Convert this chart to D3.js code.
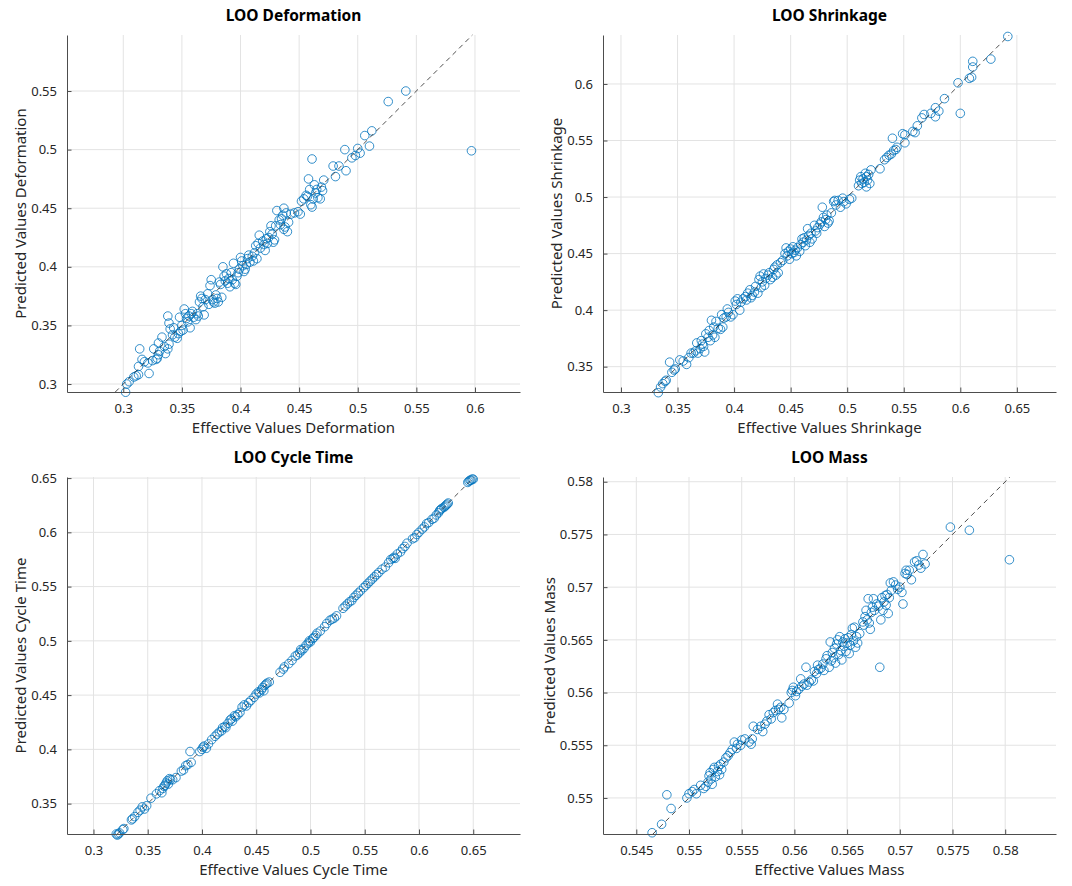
<!DOCTYPE html>
<html>
<head>
<meta charset="utf-8">
<script src="https://cdn.jsdelivr.net/npm/d3@7"></script>
<style>
  html, body { margin: 0; padding: 0; background: #fff; }
  svg { display: block; }
</style>
</head>
<body>
<svg id="chart" width="1072" height="886"></svg>
<script>
// [effective, predicted] pairs
const deformationPoints = [
  [0.302, 0.293], [0.303, 0.300], [0.305, 0.302], [0.309, 0.306], [0.311, 0.307], [0.313, 0.308],
  [0.314, 0.330], [0.313, 0.315], [0.316, 0.321], [0.318, 0.319], [0.322, 0.309], [0.321, 0.318],
  [0.325, 0.320], [0.326, 0.330], [0.328, 0.321], [0.329, 0.322], [0.330, 0.325], [0.331, 0.328],
  [0.330, 0.335], [0.333, 0.340], [0.335, 0.332], [0.336, 0.326], [0.338, 0.330], [0.339, 0.334],
  [0.338, 0.358], [0.339, 0.352], [0.340, 0.347], [0.343, 0.348], [0.342, 0.342], [0.344, 0.340],
  [0.346, 0.339], [0.347, 0.343], [0.348, 0.357], [0.349, 0.345], [0.350, 0.350], [0.351, 0.346],
  [0.352, 0.364], [0.353, 0.360], [0.354, 0.356], [0.355, 0.353], [0.356, 0.358], [0.357, 0.348],
  [0.358, 0.360], [0.359, 0.362], [0.360, 0.357], [0.362, 0.355], [0.363, 0.360], [0.364, 0.358],
  [0.365, 0.370], [0.366, 0.375], [0.367, 0.373], [0.368, 0.366], [0.369, 0.359], [0.370, 0.372],
  [0.372, 0.377], [0.373, 0.368], [0.374, 0.384], [0.375, 0.389], [0.376, 0.372], [0.377, 0.370],
  [0.378, 0.369], [0.379, 0.376], [0.380, 0.373], [0.381, 0.370], [0.382, 0.387], [0.383, 0.385],
  [0.384, 0.374], [0.385, 0.400], [0.386, 0.392], [0.387, 0.388], [0.388, 0.394], [0.389, 0.386],
  [0.390, 0.390], [0.391, 0.383], [0.392, 0.395], [0.393, 0.389], [0.394, 0.403], [0.395, 0.386],
  [0.396, 0.385], [0.397, 0.392], [0.398, 0.395], [0.399, 0.398], [0.400, 0.408], [0.401, 0.405],
  [0.402, 0.401], [0.403, 0.396], [0.404, 0.398], [0.405, 0.402], [0.406, 0.407], [0.407, 0.410],
  [0.408, 0.404], [0.410, 0.409], [0.411, 0.405], [0.412, 0.412], [0.413, 0.418], [0.414, 0.407],
  [0.415, 0.420], [0.416, 0.427], [0.417, 0.416], [0.419, 0.422], [0.420, 0.419], [0.421, 0.414],
  [0.422, 0.424], [0.423, 0.420], [0.424, 0.425], [0.425, 0.430], [0.426, 0.435], [0.427, 0.428],
  [0.428, 0.421], [0.429, 0.423], [0.430, 0.435], [0.431, 0.448], [0.433, 0.440], [0.434, 0.436],
  [0.435, 0.441], [0.436, 0.444], [0.437, 0.450], [0.437, 0.432], [0.438, 0.434], [0.439, 0.446],
  [0.440, 0.430], [0.441, 0.438], [0.443, 0.445], [0.446, 0.446], [0.449, 0.447], [0.451, 0.445],
  [0.452, 0.456], [0.454, 0.458], [0.456, 0.461], [0.457, 0.460], [0.458, 0.475], [0.459, 0.466],
  [0.460, 0.453], [0.461, 0.492], [0.461, 0.451], [0.462, 0.458], [0.463, 0.470], [0.464, 0.463],
  [0.465, 0.466], [0.466, 0.459], [0.468, 0.458], [0.469, 0.468], [0.470, 0.465], [0.471, 0.474],
  [0.479, 0.486], [0.481, 0.477], [0.484, 0.486], [0.489, 0.500], [0.490, 0.482], [0.495, 0.493],
  [0.498, 0.495], [0.500, 0.501], [0.502, 0.497], [0.506, 0.512], [0.510, 0.503], [0.512, 0.516],
  [0.526, 0.541], [0.541, 0.550], [0.597, 0.499]
]

const shrinkagePoints = [
  [0.333, 0.327], [0.335, 0.332], [0.337, 0.335], [0.339, 0.337], [0.340, 0.338], [0.343, 0.354],
  [0.345, 0.345], [0.347, 0.347], [0.348, 0.348], [0.352, 0.356], [0.355, 0.355], [0.358, 0.352],
  [0.360, 0.358], [0.362, 0.362], [0.364, 0.362], [0.366, 0.364], [0.367, 0.371], [0.368, 0.362],
  [0.370, 0.366], [0.371, 0.373], [0.372, 0.370], [0.373, 0.368], [0.374, 0.363], [0.375, 0.379],
  [0.377, 0.376], [0.378, 0.382], [0.379, 0.373], [0.380, 0.391], [0.381, 0.378], [0.382, 0.385],
  [0.383, 0.376], [0.384, 0.390], [0.386, 0.384], [0.388, 0.383], [0.389, 0.396], [0.390, 0.385],
  [0.391, 0.393], [0.393, 0.394], [0.394, 0.401], [0.395, 0.398], [0.397, 0.394], [0.399, 0.396],
  [0.401, 0.408], [0.402, 0.405], [0.403, 0.410], [0.405, 0.400], [0.406, 0.407], [0.408, 0.410],
  [0.410, 0.412], [0.411, 0.409], [0.412, 0.415], [0.414, 0.418], [0.415, 0.411], [0.416, 0.413],
  [0.418, 0.416], [0.419, 0.421], [0.421, 0.415], [0.422, 0.427], [0.423, 0.430], [0.424, 0.420],
  [0.425, 0.425], [0.426, 0.432], [0.427, 0.422], [0.428, 0.428], [0.430, 0.431], [0.431, 0.433],
  [0.432, 0.427], [0.434, 0.429], [0.435, 0.436], [0.436, 0.438], [0.437, 0.431], [0.438, 0.440],
  [0.439, 0.433], [0.441, 0.442], [0.443, 0.444], [0.445, 0.450], [0.446, 0.455], [0.447, 0.448],
  [0.448, 0.452], [0.449, 0.445], [0.450, 0.454], [0.451, 0.450], [0.452, 0.456], [0.453, 0.451],
  [0.454, 0.453], [0.455, 0.448], [0.456, 0.455], [0.458, 0.452], [0.459, 0.458], [0.460, 0.463],
  [0.461, 0.460], [0.462, 0.464], [0.463, 0.457], [0.464, 0.462], [0.465, 0.472], [0.466, 0.466],
  [0.467, 0.460], [0.468, 0.468], [0.469, 0.463], [0.471, 0.475], [0.472, 0.470], [0.473, 0.468],
  [0.474, 0.473], [0.476, 0.476], [0.477, 0.478], [0.478, 0.491], [0.479, 0.482], [0.480, 0.474],
  [0.481, 0.480], [0.482, 0.484], [0.483, 0.477], [0.484, 0.479], [0.486, 0.486], [0.488, 0.496],
  [0.489, 0.497], [0.490, 0.493], [0.492, 0.497], [0.494, 0.491], [0.496, 0.499], [0.497, 0.496],
  [0.499, 0.494], [0.502, 0.498], [0.504, 0.499], [0.510, 0.510], [0.511, 0.515], [0.512, 0.518],
  [0.513, 0.512], [0.514, 0.516], [0.515, 0.513], [0.516, 0.521], [0.517, 0.509], [0.517, 0.518],
  [0.518, 0.515], [0.519, 0.520], [0.520, 0.512], [0.521, 0.524], [0.529, 0.525], [0.533, 0.533],
  [0.535, 0.535], [0.537, 0.537], [0.539, 0.538], [0.540, 0.552], [0.541, 0.541], [0.543, 0.542],
  [0.544, 0.544], [0.549, 0.556], [0.551, 0.555], [0.551, 0.548], [0.558, 0.558], [0.560, 0.557],
  [0.562, 0.563], [0.566, 0.570], [0.568, 0.573], [0.574, 0.574], [0.578, 0.579], [0.578, 0.571],
  [0.581, 0.576], [0.586, 0.587], [0.598, 0.601], [0.600, 0.574], [0.608, 0.605], [0.610, 0.606],
  [0.611, 0.615], [0.611, 0.620], [0.627, 0.622], [0.642, 0.642]
]

const cycleTimePoints = [
  [0.321, 0.322], [0.322, 0.321], [0.323, 0.322], [0.324, 0.323], [0.327, 0.326], [0.328, 0.327],
  [0.335, 0.335], [0.336, 0.336], [0.338, 0.338], [0.341, 0.342], [0.343, 0.344], [0.345, 0.347],
  [0.347, 0.345], [0.349, 0.348], [0.353, 0.355], [0.358, 0.359], [0.361, 0.362], [0.363, 0.360],
  [0.364, 0.364], [0.365, 0.366], [0.366, 0.367], [0.367, 0.369], [0.368, 0.371], [0.369, 0.368],
  [0.370, 0.373], [0.371, 0.372], [0.373, 0.372], [0.376, 0.374], [0.381, 0.380], [0.383, 0.381],
  [0.385, 0.385], [0.387, 0.386], [0.389, 0.398], [0.390, 0.388], [0.398, 0.398], [0.400, 0.400],
  [0.401, 0.402], [0.402, 0.403], [0.404, 0.401], [0.406, 0.405], [0.409, 0.409], [0.412, 0.412],
  [0.414, 0.414], [0.416, 0.416], [0.418, 0.417], [0.419, 0.420], [0.421, 0.421], [0.422, 0.420],
  [0.424, 0.424], [0.426, 0.427], [0.427, 0.428], [0.428, 0.426], [0.430, 0.431], [0.431, 0.430],
  [0.433, 0.432], [0.435, 0.434], [0.437, 0.439], [0.439, 0.441], [0.441, 0.440], [0.443, 0.443],
  [0.445, 0.445], [0.448, 0.448], [0.450, 0.451], [0.452, 0.453], [0.453, 0.452], [0.455, 0.455],
  [0.456, 0.457], [0.457, 0.454], [0.458, 0.459], [0.459, 0.460], [0.460, 0.461], [0.462, 0.462],
  [0.472, 0.471], [0.475, 0.474], [0.476, 0.476], [0.480, 0.479], [0.483, 0.482], [0.486, 0.486],
  [0.488, 0.487], [0.490, 0.489], [0.491, 0.492], [0.492, 0.491], [0.494, 0.493], [0.496, 0.496],
  [0.498, 0.498], [0.499, 0.500], [0.500, 0.499], [0.502, 0.502], [0.503, 0.503], [0.505, 0.505],
  [0.506, 0.507], [0.509, 0.509], [0.513, 0.513], [0.515, 0.516], [0.518, 0.519], [0.520, 0.520],
  [0.522, 0.521], [0.524, 0.523], [0.530, 0.530], [0.532, 0.532], [0.534, 0.534], [0.536, 0.536],
  [0.538, 0.537], [0.540, 0.540], [0.542, 0.542], [0.544, 0.544], [0.546, 0.546], [0.549, 0.549],
  [0.551, 0.551], [0.553, 0.553], [0.555, 0.555], [0.557, 0.557], [0.559, 0.559], [0.561, 0.561],
  [0.563, 0.563], [0.566, 0.566], [0.569, 0.568], [0.572, 0.572], [0.574, 0.575], [0.576, 0.576],
  [0.577, 0.577], [0.578, 0.576], [0.580, 0.580], [0.583, 0.582], [0.585, 0.585], [0.587, 0.587],
  [0.589, 0.590], [0.594, 0.594], [0.596, 0.595], [0.598, 0.598], [0.600, 0.600], [0.603, 0.603],
  [0.605, 0.605], [0.607, 0.608], [0.609, 0.609], [0.612, 0.612], [0.614, 0.613], [0.616, 0.616],
  [0.618, 0.618], [0.619, 0.620], [0.620, 0.621], [0.621, 0.622], [0.623, 0.623], [0.624, 0.624],
  [0.625, 0.625], [0.626, 0.626], [0.627, 0.627], [0.645, 0.646], [0.646, 0.647], [0.647, 0.648],
  [0.648, 0.648], [0.649, 0.649], [0.650, 0.649]
]

const massPoints = [
  [0.5465, 0.5467], [0.5474, 0.5475], [0.5479, 0.5503], [0.5483, 0.5490], [0.5498, 0.5500],
  [0.5500, 0.5504], [0.5503, 0.5506], [0.5505, 0.5508], [0.5507, 0.5504], [0.5511, 0.5512],
  [0.5514, 0.5509], [0.5516, 0.5511], [0.5518, 0.5515], [0.5519, 0.5521], [0.5520, 0.5524],
  [0.5521, 0.5518], [0.5522, 0.5513], [0.5523, 0.5527], [0.5524, 0.5529], [0.5525, 0.5520],
  [0.5527, 0.5525], [0.5528, 0.5530], [0.5529, 0.5522], [0.5530, 0.5532], [0.5531, 0.5527],
  [0.5533, 0.5534], [0.5535, 0.5538], [0.5537, 0.5540], [0.5539, 0.5543], [0.5541, 0.5546],
  [0.5543, 0.5553], [0.5545, 0.5547], [0.5546, 0.5551], [0.5549, 0.5550], [0.5550, 0.5555],
  [0.5553, 0.5556], [0.5557, 0.5553], [0.5559, 0.5551], [0.5560, 0.5556], [0.5561, 0.5568],
  [0.5565, 0.5565], [0.5568, 0.5568], [0.5570, 0.5563], [0.5572, 0.5570], [0.5574, 0.5573],
  [0.5576, 0.5579], [0.5578, 0.5575], [0.5580, 0.5581], [0.5582, 0.5583], [0.5584, 0.5589],
  [0.5585, 0.5584], [0.5587, 0.5586], [0.5588, 0.5576], [0.5590, 0.5584], [0.5595, 0.5590],
  [0.5597, 0.5600], [0.5598, 0.5602], [0.5599, 0.5605], [0.5601, 0.5597], [0.5602, 0.5601],
  [0.5604, 0.5603], [0.5606, 0.5613], [0.5607, 0.5606], [0.5609, 0.5608], [0.5611, 0.5624],
  [0.5612, 0.5607], [0.5614, 0.5610], [0.5616, 0.5612], [0.5618, 0.5611], [0.5619, 0.5620],
  [0.5621, 0.5618], [0.5622, 0.5626], [0.5623, 0.5622], [0.5625, 0.5623], [0.5627, 0.5627],
  [0.5628, 0.5621], [0.5630, 0.5632], [0.5631, 0.5635], [0.5633, 0.5624], [0.5634, 0.5648],
  [0.5635, 0.5630], [0.5636, 0.5638], [0.5637, 0.5633], [0.5638, 0.5642], [0.5639, 0.5628],
  [0.5640, 0.5646], [0.5641, 0.5650], [0.5642, 0.5636], [0.5643, 0.5653], [0.5644, 0.5640],
  [0.5645, 0.5631], [0.5646, 0.5648], [0.5647, 0.5644], [0.5648, 0.5651], [0.5649, 0.5639],
  [0.5650, 0.5647], [0.5651, 0.5652], [0.5652, 0.5637], [0.5653, 0.5645], [0.5654, 0.5655],
  [0.5655, 0.5661], [0.5656, 0.5649], [0.5657, 0.5662], [0.5658, 0.5643], [0.5659, 0.5653],
  [0.5660, 0.5647], [0.5662, 0.5656], [0.5665, 0.5667], [0.5666, 0.5664], [0.5667, 0.5672],
  [0.5668, 0.5678], [0.5669, 0.5669], [0.5670, 0.5689], [0.5671, 0.5666], [0.5672, 0.5660],
  [0.5673, 0.5676], [0.5674, 0.5681], [0.5675, 0.5689], [0.5676, 0.5678], [0.5678, 0.5684],
  [0.5680, 0.5682], [0.5681, 0.5624], [0.5682, 0.5669], [0.5683, 0.5690], [0.5684, 0.5678],
  [0.5685, 0.5686], [0.5686, 0.5692], [0.5687, 0.5683], [0.5688, 0.5693], [0.5689, 0.5675],
  [0.5690, 0.5690], [0.5691, 0.5704], [0.5692, 0.5697], [0.5694, 0.5705], [0.5696, 0.5702],
  [0.5698, 0.5698], [0.5700, 0.5700], [0.5702, 0.5695], [0.5703, 0.5684], [0.5705, 0.5713],
  [0.5706, 0.5716], [0.5707, 0.5712], [0.5709, 0.5716], [0.5711, 0.5707], [0.5714, 0.5724],
  [0.5716, 0.5725], [0.5718, 0.5721], [0.5720, 0.5718], [0.5722, 0.5731], [0.5724, 0.5722],
  [0.5748, 0.5757], [0.5766, 0.5754], [0.5804, 0.5726]
]

// tick labels per panel
const deformationXTicks = [0.3, 0.35, 0.4, 0.45, 0.5, 0.55, 0.6]
const deformationYTicks = [0.3, 0.35, 0.4, 0.45, 0.5, 0.55]
const shrinkageXTicks = [0.3, 0.35, 0.4, 0.45, 0.5, 0.55, 0.6, 0.65]
const shrinkageYTicks = [0.35, 0.4, 0.45, 0.5, 0.55, 0.6]
const cycleTimeXTicks = [0.3, 0.35, 0.4, 0.45, 0.5, 0.55, 0.6, 0.65]
const cycleTimeYTicks = [0.35, 0.4, 0.45, 0.5, 0.55, 0.6, 0.65]
const massXTicks = [0.545, 0.55, 0.555, 0.56, 0.565, 0.57, 0.575, 0.58]
const massYTicks = [0.55, 0.555, 0.56, 0.565, 0.57, 0.575, 0.58]

// axis limits (equal aspect, y tight to predictions)
const deformationXLim = [0.2520, 0.6384]
const deformationYLim = [0.2932, 0.5978]
const shrinkageXLim = [0.2841, 0.6846]
const shrinkageYLim = [0.3276, 0.6433]
const cycleTimeXLim = [0.2756, 0.6931]
const cycleTimeYLim = [0.3220, 0.6510]
const massXLim = [0.54184, 0.58482]
const massYLim = [0.54658, 0.58045]

const FONT = '"Noto Sans", "Open Sans", sans-serif'
const TEXT = '#262626'
const BLUE = '#0072BD'

const W = 453
const H = 357

const panels = [
  { name: 'Deformation', points: deformationPoints, xLim: deformationXLim, yLim: deformationYLim,
    xTicks: deformationXTicks, yTicks: deformationYTicks, left: 67, top: 35 },
  { name: 'Shrinkage', points: shrinkagePoints, xLim: shrinkageXLim, yLim: shrinkageYLim,
    xTicks: shrinkageXTicks, yTicks: shrinkageYTicks, left: 603, top: 35 },
  { name: 'Cycle Time', points: cycleTimePoints, xLim: cycleTimeXLim, yLim: cycleTimeYLim,
    xTicks: cycleTimeXTicks, yTicks: cycleTimeYTicks, left: 67, top: 477 },
  { name: 'Mass', points: massPoints, xLim: massXLim, yLim: massYLim,
    xTicks: massXTicks, yTicks: massYTicks, left: 603, top: 477 }
]

const svg = d3.select('#chart')
const fmt = d3.format('~g')

function drawPanel (p) {
  const x = d3.scaleLinear().domain(p.xLim).range([0, W])
  const y = d3.scaleLinear().domain(p.yLim).range([H, 0])

  const g = svg.append('g')
    .attr('transform', `translate(${p.left}, ${p.top})`)

  // grid
  g.append('g').selectAll('line')
    .data(p.xTicks)
    .join('line')
    .attr('x1', d => x(d)).attr('x2', d => x(d))
    .attr('y1', 0).attr('y2', H)
    .attr('stroke', '#e3e3e3')
  g.append('g').selectAll('line')
    .data(p.yTicks)
    .join('line')
    .attr('x1', 0).attr('x2', W)
    .attr('y1', d => y(d)).attr('y2', d => y(d))
    .attr('stroke', '#e3e3e3')

  // scatter
  g.append('g').selectAll('circle')
    .data(p.points)
    .join('circle')
    .attr('cx', d => x(d[0]))
    .attr('cy', d => y(d[1]))
    .attr('r', 4.3)
    .attr('fill', 'none')
    .attr('stroke', BLUE)
    .attr('stroke-width', 0.8)

  // identity line
  const lo = Math.max(p.xLim[0], p.yLim[0])
  const hi = Math.min(p.xLim[1], p.yLim[1])
  g.append('line')
    .attr('x1', x(lo)).attr('y1', y(lo))
    .attr('x2', x(hi)).attr('y2', y(hi))
    .attr('stroke', '#222')
    .attr('stroke-width', 0.8)
    .attr('stroke-dasharray', '5,4')

  // axes with inward ticks
  const xAxis = g.append('g')
    .attr('transform', `translate(0, ${H})`)
    .call(d3.axisBottom(x).tickValues(p.xTicks).tickFormat(fmt).tickSizeInner(-4.5).tickSizeOuter(0).tickPadding(12))
  const yAxis = g.append('g')
    .call(d3.axisLeft(y).tickValues(p.yTicks).tickFormat(fmt).tickSizeInner(-4.5).tickSizeOuter(0).tickPadding(10))

  for (const ax of [xAxis, yAxis]) {
    ax.select('.domain').attr('stroke', '#4d4d4d').attr('stroke-width', 1)
    ax.selectAll('.tick line').attr('stroke', '#4d4d4d')
    ax.selectAll('.tick text')
      .attr('fill', TEXT)
      .style('font-family', FONT)
      .style('font-size', '13px')
  }

  // widest y tick label decides where the y title goes
  let maxW = 0
  yAxis.selectAll('.tick text').each(function () {
    maxW = Math.max(maxW, this.getComputedTextLength())
  })

  g.append('text')
    .attr('x', W / 2).attr('y', -14)
    .attr('text-anchor', 'middle')
    .style('font-family', FONT)
    .style('font-size', '15.5px')
    .style('font-weight', 'bold')
    .attr('fill', '#000')
    .text('LOO ' + p.name)

  g.append('text')
    .attr('x', W / 2).attr('y', H + 41)
    .attr('text-anchor', 'middle')
    .style('font-family', FONT)
    .style('font-size', '15px')
    .attr('fill', TEXT)
    .text('Effective Values ' + p.name)

  g.append('text')
    .attr('transform', `translate(${-maxW - 15}, ${H / 2}) rotate(-90)`)
    .attr('text-anchor', 'middle')
    .style('font-family', FONT)
    .style('font-size', '15px')
    .attr('fill', TEXT)
    .text('Predicted Values ' + p.name)
}

panels.forEach(drawPanel)
</script>
</body>
</html>
